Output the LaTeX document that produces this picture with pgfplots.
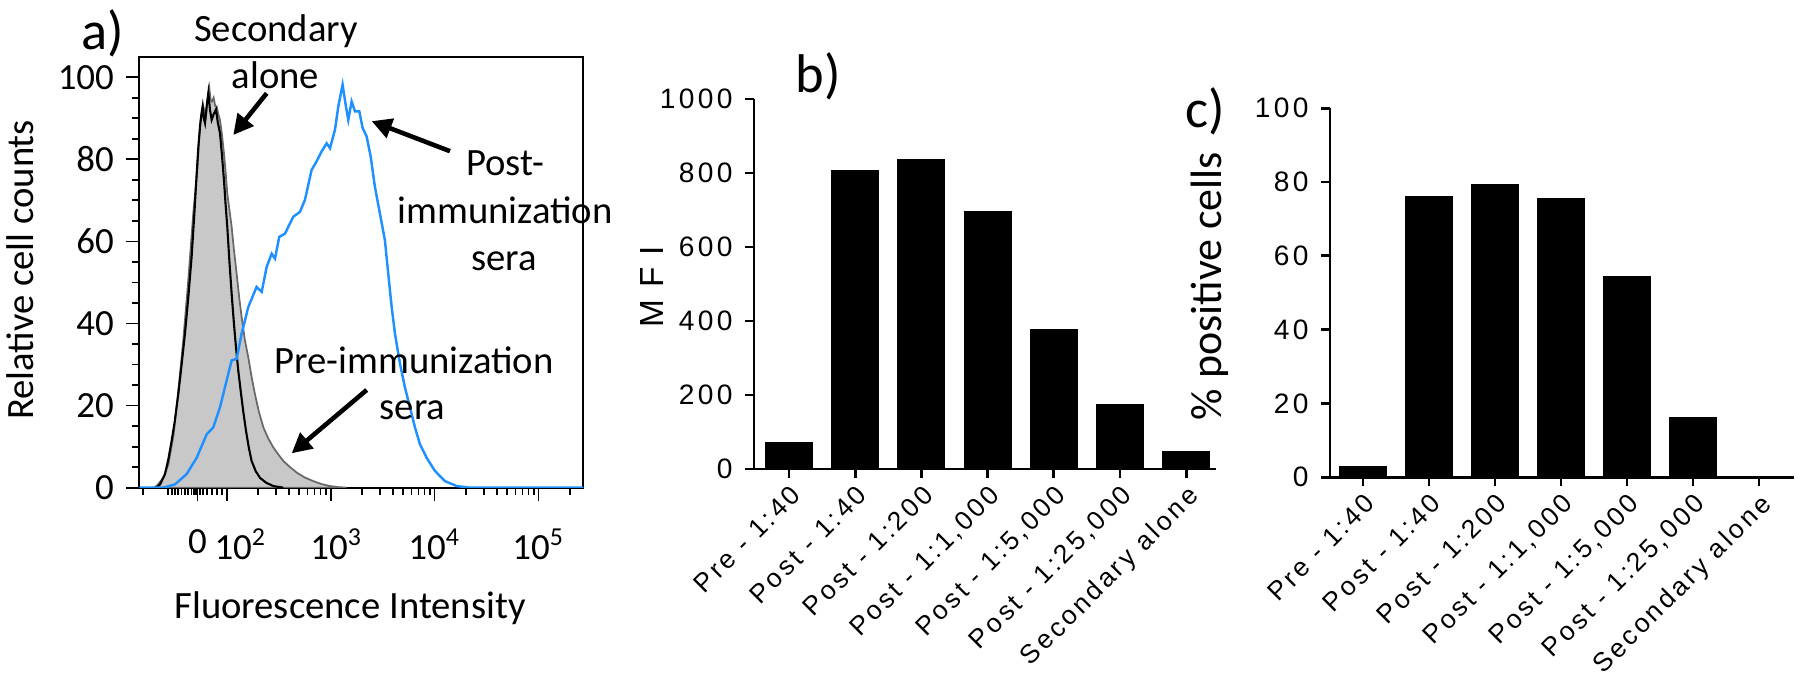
\documentclass[border=0pt]{standalone}
\usepackage{fontspec}
\setmainfont{Carlito}
\newfontfamily\prism{Liberation Sans}[LetterSpace=12]
\newfontfamily\prismwide{Liberation Sans}[LetterSpace=35]
\usepackage{pgfplots}
\pgfplotsset{compat=1.18}
\usetikzlibrary{arrows.meta}

\definecolor{postblue}{RGB}{30,144,255}
\definecolor{prefill}{RGB}{200,200,200}
\definecolor{preline}{RGB}{105,105,105}

\newcommand\annfont{\fontsize{11}{13.5}\selectfont}
\newcommand\panelfont{\fontsize{15.5}{17}\selectfont}
\newcommand\prismfont{\prism\fontsize{7.5}{9}\selectfont}

\pgfplotsset{
  prismbar/.style={
    scale only axis, ybar, bar width=4.7mm, bar shift=0pt,
    axis lines=left, axis line style={-, line width=0.8pt},
    tick align=outside, tick style={line width=0.8pt, black},
    major tick length=0.9mm, enlargelimits=false, clip=false,
    xtick={0,...,6},
    xticklabels={Pre - 1:40, Post - 1:40, Post - 1:200, {Post - 1:1,000},
                 {Post - 1:5,000}, {Post - 1:25,000}, Secondary alone},
    xticklabel style={rotate=45, anchor=north east, font=\prismfont, inner sep=1pt},
    yticklabel style={font=\prism\fontsize{8}{9.5}\selectfont},
  },
}

\begin{document}
\begin{tikzpicture}
\path[use as bounding box] (0,0) rectangle (180mm,67.6mm);

% a) histogram, x in decades of the display scale
\begin{axis}[
    at={(13.93mm,18.83mm)}, anchor=south west, scale only axis,
    width=44.4mm, height=43.1mm,
    xmin=1.16, xmax=5.43, ymin=0, ymax=105,
    axis line style={line width=0.5pt},
    tick pos=left, tick align=outside,
    tick style={black, line width=0.5pt},
    major tick length=1.3mm, minor tick length=0.7mm,
    ytick={0,20,...,100}, minor ytick={5,10,15,25,30,35,45,50,55,65,70,75,85,90,95},
    xtick={1.72,2,3,4,5},
    xticklabels={0, \hspace*{2.8mm}10\textsuperscript{2}, \hspace*{1.2mm}10\textsuperscript{3},
                 10\textsuperscript{4}, 10\textsuperscript{5}},
    minor xtick={1.199,1.439,1.471,1.503,1.535,1.567,1.599,1.631,1.663,1.686,1.705,
                 1.744,1.776,1.814,1.856,1.904,1.952,
                 2.301,2.477,2.602,2.699,2.778,2.845,2.903,2.954,
                 3.301,3.477,3.602,3.699,3.778,3.845,3.903,3.954,
                 4.301,4.477,4.602,4.699,4.778,4.845,4.903,4.954,5.301},
    ticklabel style={font=\fontsize{10.5}{12}\selectfont},
    xticklabel style={yshift=-1.6mm},
    /pgf/number format/assume math mode=true,
]
\addplot[fill=prefill, draw=preline, line width=0.5pt] coordinates {
 (1.30,0) (1.33,0.5) (1.39,2.4) (1.44,5.7) (1.49,13) (1.535,23.6) (1.583,35.9)
 (1.631,50.5) (1.679,66.8) (1.718,77.4) (1.735,85) (1.750,89.6) (1.765,91)
 (1.776,92.9) (1.790,91.5) (1.801,90.5) (1.815,94) (1.833,97.4) (1.846,94.5)
 (1.859,94.1) (1.875,95) (1.890,93) (1.904,92.9) (1.920,91) (1.936,89.6)
 (1.955,86) (1.974,81.5) (1.990,77) (2.006,71.7) (2.025,68) (2.048,63.6)
 (2.070,58) (2.096,52.2) (2.12,46.5) (2.144,41.6) (2.175,36) (2.208,31.8)
 (2.24,27) (2.272,22.8) (2.31,18.5) (2.353,14.7) (2.40,12) (2.449,9.8)
 (2.50,8) (2.545,6.5) (2.61,5) (2.673,3.7) (2.75,2.5) (2.833,1.6) (2.91,0.9)
 (2.994,0.4) (3.07,0.15) (3.154,0)} \closedcycle;
\addplot[black, line width=0.6pt] coordinates {
 (1.32,0) (1.36,0.8) (1.407,3.3) (1.44,7) (1.471,11.4) (1.50,16) (1.535,22.8)
 (1.567,30) (1.599,37.5) (1.63,46) (1.663,56.2) (1.69,67) (1.712,76.6)
 (1.728,83) (1.744,88) (1.757,91) (1.769,92.9) (1.780,90) (1.792,88.8)
 (1.808,93) (1.824,96.2) (1.840,92) (1.856,89.6) (1.875,91) (1.897,92.1)
 (1.915,89) (1.936,86.4) (1.955,81) (1.974,75) (1.990,69) (2.006,63.6)
 (2.027,55) (2.048,47.3) (2.070,40) (2.090,34.2) (2.112,28.5) (2.135,23.6)
 (2.160,18.5) (2.186,13.9) (2.213,9.8) (2.240,6.5) (2.28,4) (2.321,2.4)
 (2.38,1.2) (2.449,0.4) (2.545,0)};
\addplot[postblue, line width=0.7pt] coordinates {
 (1.16,0) (1.391,0) (1.503,0.8) (1.615,3.3) (1.712,7.3) (1.808,13) (1.872,14.7)
 (1.936,19.6) (2.000,26.1) (2.048,31) (2.096,31.4) (2.144,37.5) (2.208,44)
 (2.288,48.9) (2.337,47.7) (2.385,53.8) (2.433,57) (2.465,55.8) (2.506,61.1)
 (2.561,61.9) (2.641,66) (2.705,67.2) (2.753,70.1) (2.817,77.4) (2.865,79.5)
 (2.913,81.9) (2.962,83.9) (2.994,82.7) (3.042,87.2) (3.074,92.9) (3.115,98.2)
 (3.147,92.9) (3.170,89.6) (3.202,94.1) (3.234,91.7) (3.276,91.7) (3.308,87.6)
 (3.346,85.6) (3.385,80.7) (3.426,73.3) (3.474,66.8) (3.522,60.3) (3.554,52.2)
 (3.587,44) (3.619,37.5) (3.667,30.2) (3.715,24.4) (3.763,19.6) (3.811,14.7)
 (3.859,10.6) (3.923,7.3) (4.003,4.1) (4.099,1.6) (4.212,0.4) (4.340,0) (5.43,0)};
\end{axis}

% b) MFI
\begin{axis}[prismbar,
    at={(75.4mm,20.7mm)}, anchor=south west,
    width=46.2mm, height=37.0mm,
    xmin=-0.53, xmax=6.45, ymin=0, ymax=1000,
    ytick={0,200,...,1000}, yticklabels={0,200,400,600,800,1000},
]
\addplot[fill=black, draw=black, line width=0.3pt] coordinates {
 (0,72) (1,806) (2,837) (3,696) (4,378) (5,173) (6,47)};
\end{axis}

% c) % positive cells
\begin{axis}[prismbar,
    at={(133.0mm,19.87mm)}, anchor=south west,
    width=46.4mm, height=36.9mm,
    xmin=-0.5, xmax=6.53, ymin=0, ymax=100,
    ytick={0,20,...,100}, yticklabels={0,20,40,60,80,100},
]
\addplot[fill=black, draw=black, line width=0.3pt] coordinates {
 (0,2.9) (1,76.1) (2,79.4) (3,75.5) (4,54.4) (5,16.1) (6,0)};
\end{axis}

% panel letters and annotations
\node[font=\panelfont] at (10.3mm,64.3mm) {a)};
\node[font=\panelfont] at (81.8mm,60.0mm) {b)};
\node[font=\panelfont] at (120.5mm,56.5mm) {c)};

\node[font=\annfont, anchor=base] at (27.6mm,63.4mm) {Secondary};
\node[font=\annfont, anchor=base] at (27.55mm,58.7mm) {alone};
\node[font=\annfont, anchor=base] at (50.5mm,50.0mm) {Post-};
\node[font=\annfont, anchor=base] at (50.5mm,45.27mm) {immunization};
\node[font=\annfont, anchor=base] at (50.4mm,40.5mm) {sera};
\node[font=\annfont, anchor=base] at (41.4mm,30.27mm) {Pre-immunization};
\node[font=\annfont, anchor=base] at (41.25mm,25.6mm) {sera};

\begin{scope}[line width=1.3pt, -{Triangle[length=2mm, width=2mm]}]
\draw (26.67mm,58.27mm) -- (23.33mm,54.1mm);
\draw (45.0mm,52.48mm) -- (37.17mm,55.48mm);
\draw (36.67mm,28.6mm) -- (29.17mm,22.27mm);
\end{scope}

\node[font=\annfont, rotate=90] at (2.0mm,40.6mm) {Relative cell counts};
\node[font=\annfont, anchor=base] at (35.0mm,5.7mm) {Fluorescence Intensity};
\node[font=\prismwide\fontsize{9.5}{11}\selectfont, rotate=90] at (65.2mm,38.9mm) {MFI};
\node[font=\fontsize{12.5}{14}\selectfont, rotate=90] at (121.0mm,39.0mm) {\% positive cells};
\end{tikzpicture}
\end{document}
